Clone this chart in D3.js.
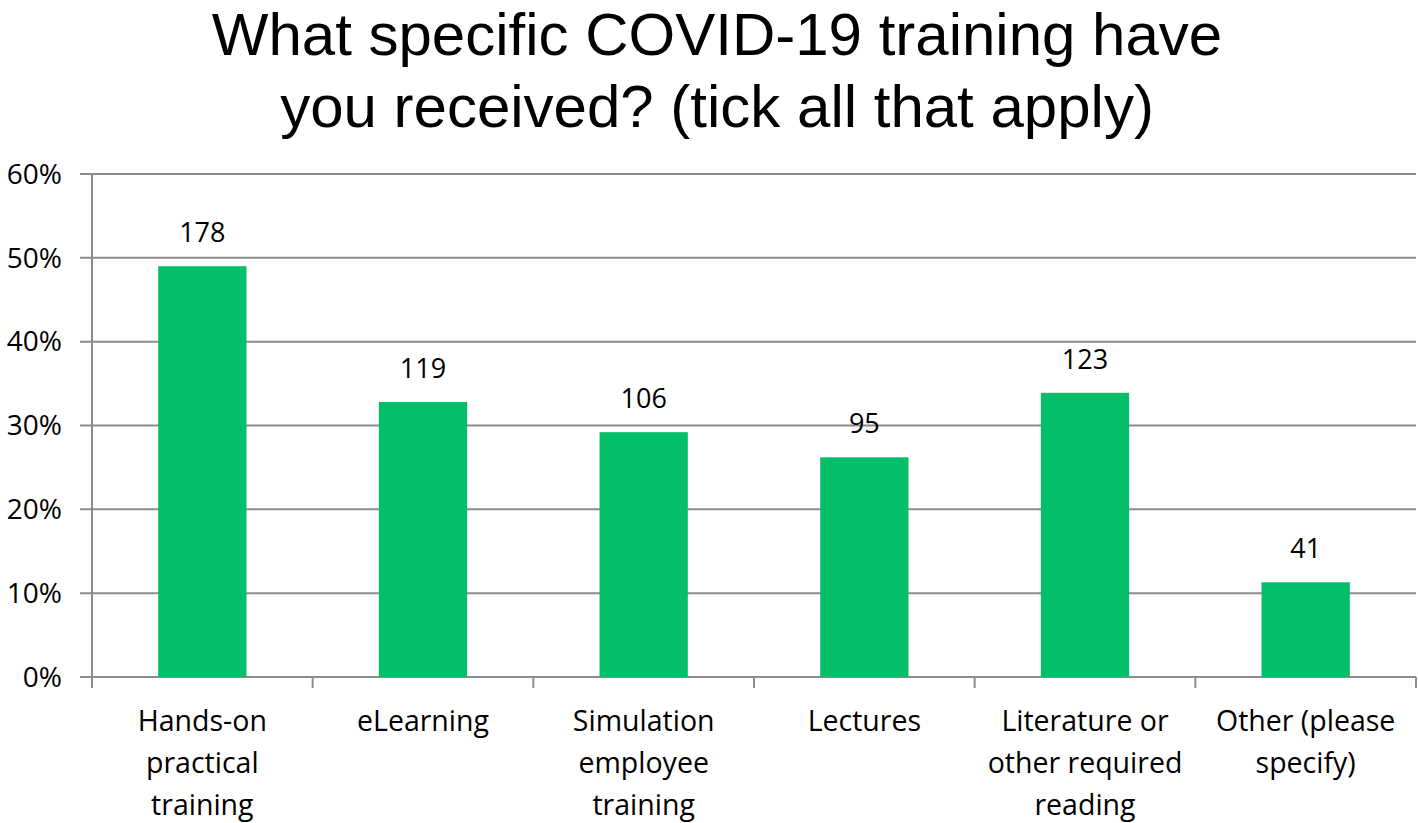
<!DOCTYPE html>
<html><head><meta charset="utf-8">
<script src="https://cdn.jsdelivr.net/npm/d3@7"></script>
<style>body{margin:0;background:#fff}svg{display:block}</style>
</head><body>
<svg id="c" width="1418" height="823"></svg>
<script>
const categories = [["Hands-on","practical","training"],["eLearning"],["Simulation","employee","training"],["Lectures"],["Literature or","other required","reading"],["Other (please","specify)"]];
const percentValues = [49.0, 32.8, 29.2, 26.2, 33.9, 11.3];
const countLabels = [178, 119, 106, 95, 123, 41];
const yTicks = [0, 10, 20, 30, 40, 50, 60];
const titleLines = ["What specific COVID-19 training have", "you received? (tick all that apply)"];

(function () {
const svg = d3.select("#c");
const pL = 92, pR = 1416, pT = 174, pB = 677;
const x = d3.scaleBand().domain(d3.range(categories.length)).range([pL, pR]).paddingInner(0.6).paddingOuter(0.3);
const xb = d3.scaleBand().domain(d3.range(categories.length)).range([pL, pR]);
const y = d3.scaleLinear().domain([0, 60]).range([pB, pT]);
const lbl = "'Open Sans', Lato, sans-serif";

svg.append("g").selectAll("line").data(yTicks).join("line")
  .attr("x1", pL - 12).attr("x2", pR).attr("y1", d => y(d)).attr("y2", d => y(d))
  .attr("stroke", "#8c8c8c").attr("stroke-width", 2);
svg.append("line").attr("x1", pL).attr("x2", pL).attr("y1", pT).attr("y2", pB + 11)
  .attr("stroke", "#8c8c8c").attr("stroke-width", 2);
svg.append("g").selectAll("line").data(d3.range(1, categories.length + 1)).join("line")
  .attr("x1", d => xb(d - 1) + xb.bandwidth()).attr("x2", d => xb(d - 1) + xb.bandwidth())
  .attr("y1", pB).attr("y2", pB + 11).attr("stroke", "#8c8c8c").attr("stroke-width", 2);
svg.append("g").selectAll("text").data(yTicks).join("text")
  .attr("x", 62).attr("y", d => y(d)).attr("dy", "0.35em").attr("text-anchor", "end")
  .attr("font-family", lbl).attr("font-size", 28).attr("fill", "#000").text(d => d + "%");
svg.append("g").selectAll("rect").data(percentValues).join("rect")
  .attr("x", (d, i) => x(i)).attr("width", x.bandwidth())
  .attr("y", d => y(d)).attr("height", d => y(0) - y(d)).attr("fill", "#03bf6a");
svg.append("g").selectAll("text").data(percentValues).join("text")
  .attr("x", (d, i) => x(i) + x.bandwidth() / 2).attr("y", d => y(d) - 24)
  .attr("text-anchor", "middle").attr("font-family", lbl).attr("font-size", 27).attr("fill", "#000")
  .text((d, i) => countLabels[i]);
const cg = svg.append("g").selectAll("text").data(categories).join("text")
  .attr("text-anchor", "middle").attr("font-family", lbl).attr("font-size", 28.5).attr("fill", "#000");
cg.selectAll("tspan").data((d, i) => d.map(t => ({t, i}))).join("tspan")
  .attr("x", d => x(d.i) + x.bandwidth() / 2).attr("y", (d, j) => 731 + j * 42).text(d => d.t);
svg.append("g").selectAll("text").data(titleLines).join("text")
  .attr("x", 717).attr("y", (d, i) => 55 + i * 72).attr("text-anchor", "middle")
  .attr("font-family", "'Liberation Sans', Arial, sans-serif").attr("font-size", 60).attr("fill", "#000").text(d => d);
})();
</script>
</body></html>
